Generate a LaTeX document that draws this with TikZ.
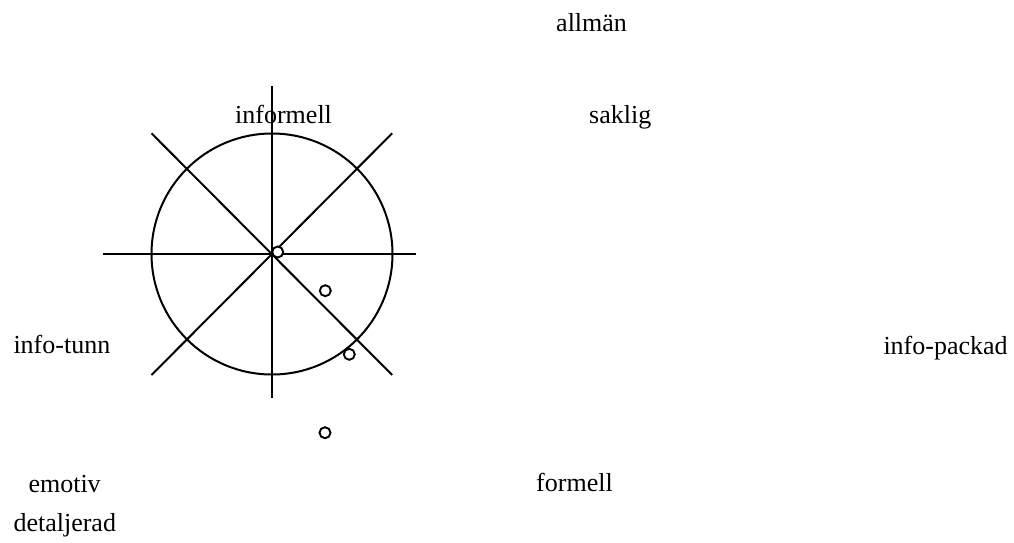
\documentclass[tikz,border=0pt]{standalone}
\usepackage{fontspec}
\setmainfont{Liberation Serif}
\begin{document}
\begin{tikzpicture}[x=1pt,y=-1pt,
  lbl/.style={anchor=base west,inner sep=0pt,font=\fontsize{26}{31}\selectfont},
  ln/.style={line width=2pt,line cap=butt},
  dot/.style={circle,draw,line width=1.9pt,minimum size=11pt,inner sep=0pt,fill=white}]
\useasboundingbox (0,0) rectangle (1014,542);
\coordinate (c) at (272,254);
% circle and axes
\draw[ln] (c) circle[radius=120.5];
\draw[ln] (102.7,254) coordinate (hl) -- (416,254) coordinate (hr);
\draw[ln] (272,86) coordinate (vt) -- (272,398) coordinate (vb);
\draw[ln] (151.5,133.3) coordinate (d1a) -- (392.2,375) coordinate (d1b);
\draw[ln] (151.5,375) coordinate (d2a) -- (392.2,133.3) coordinate (d2b);
% small circles
\node[dot] (p1) at (277.7,252) {};
\node[dot] (p2) at (325.3,290.7) {};
\node[dot] (p3) at (349.3,354.3) {};
\node[dot] (p4) at (325,432.7) {};
% labels
\node[lbl] (allman) at (556,31.7) {allmän};
\node[lbl] (informell) at (235,123.3) {informell};
\node[lbl] (saklig) at (589,123.3) {saklig};
\node[lbl] (infotunn) at (13.3,353.3) {info-tunn};
\node[lbl] (infopackad) at (883.3,354) {info-packad};
\node[lbl] (emotiv) at (28.3,492.3) {emotiv};
\node[lbl] (formell) at (536,491.7) {formell};
\node[lbl] (detaljerad) at (13.3,531) {detaljerad};
\end{tikzpicture}
\end{document}
